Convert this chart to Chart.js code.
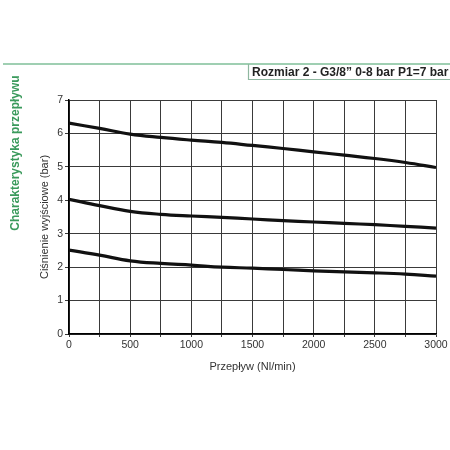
<!DOCTYPE html>
<html>
<head>
<meta charset="utf-8">
<script src="https://cdn.jsdelivr.net/npm/chart.js@4"></script>
<style>
  html, body { margin: 0; padding: 0; background: #fff; }
  #wrap { width: 450px; height: 450px; }
</style>
</head>
<body>
<div id="wrap"><canvas id="flowChart" width="450" height="450"></canvas></div>
<script>
// Dane
const flow = [0, 250, 500, 750, 1000, 1250, 1500, 1750, 2000, 2250, 2500, 2750, 3000];
const pressureHigh = [6.31, 6.15, 5.98, 5.88, 5.80, 5.73, 5.64, 5.55, 5.45, 5.35, 5.25, 5.13, 4.98];
const pressureMid = [4.03, 3.84, 3.67, 3.58, 3.53, 3.49, 3.44, 3.39, 3.35, 3.31, 3.27, 3.22, 3.17];
const pressureLow = [2.51, 2.36, 2.19, 2.11, 2.06, 2.00, 1.97, 1.93, 1.89, 1.86, 1.83, 1.79, 1.73];

const headerText = 'Rozmiar 2 - G3/8\u201D 0-8 bar P1=7 bar';
const sideTitle = 'Charakterystyka przepływu';
const xTitle = 'Przepływ (Nl/min)';
const yTitle = 'Ciśnienie wyjściowe (bar)';

const FONT = '"Liberation Sans", Arial, sans-serif';
const GREEN = '#3a9a5c';

function toPoints(values) {
    return flow.map((x, i) => ({ x: x, y: values[i] }));
}

function lineSet(values) {
    return {
        data: toPoints(values),
        borderColor: '#111',
        borderWidth: 3.2,
        pointRadius: 0,
        tension: 0.4,
        fill: false
    };
}

// Naglowek, zielona linia i pionowy tytul
const decorPlugin = {
    id: 'decor',
    afterDraw(chart) {
        const ctx = chart.ctx;
        ctx.save();
        ctx.strokeStyle = '#7fbf98';
        ctx.lineWidth = 1.5;
        ctx.beginPath();
        ctx.moveTo(3, 64);
        ctx.lineTo(450, 64);
        ctx.stroke();

        ctx.strokeStyle = '#8fb7a0';
        ctx.lineWidth = 1.2;
        ctx.beginPath();
        ctx.moveTo(248.5, 64);
        ctx.lineTo(248.5, 79.5);
        ctx.lineTo(450, 79.5);
        ctx.stroke();

        ctx.fillStyle = '#222';
        ctx.font = 'bold 12px ' + FONT;
        ctx.textAlign = 'left';
        ctx.textBaseline = 'alphabetic';
        ctx.fillText(headerText, 252, 76);

        ctx.translate(16, 153);
        ctx.rotate(-Math.PI / 2);
        ctx.fillStyle = GREEN;
        ctx.font = 'bold 12px ' + FONT;
        ctx.textAlign = 'center';
        ctx.textBaseline = 'middle';
        ctx.fillText(sideTitle, 0, 0);
        ctx.restore();
    }
};

new Chart(document.getElementById('flowChart'), {
    type: 'line',
    data: {
        datasets: [lineSet(pressureHigh), lineSet(pressureMid), lineSet(pressureLow)]
    },
    options: {
        responsive: false,
        animation: false,
        layout: {
            padding: { top: 100, right: 14, left: 34, bottom: 74.7 }
        },
        plugins: {
            legend: { display: false },
            tooltip: { enabled: false }
        },
        scales: {
            x: {
                type: 'linear',
                min: 0,
                max: 3000,
                afterFit(scale) { scale.height = 41.3; },
                ticks: {
                    stepSize: 250,
                    autoSkip: false,
                    maxRotation: 0,
                    padding: 2,
                    color: '#333',
                    font: { family: FONT, size: 10.5 },
                    callback: v => (v % 500 === 0 ? v : '')
                },
                grid: { color: '#3a3a3a', lineWidth: 1, tickLength: 3 },
                border: { color: '#000', width: 1.5 },
                title: {
                    display: true,
                    text: xTitle,
                    color: '#333',
                    font: { family: FONT, size: 11 },
                    padding: { top: 4, bottom: 2 }
                }
            },
            y: {
                min: 0,
                max: 7,
                afterFit(scale) { scale.width = 35; },
                ticks: {
                    stepSize: 1,
                    padding: 2,
                    color: '#333',
                    font: { family: FONT, size: 10.5 }
                },
                grid: { color: '#3a3a3a', lineWidth: 1, tickLength: 4 },
                border: { color: '#000', width: 1.5 },
                title: {
                    display: true,
                    text: yTitle,
                    color: '#333',
                    font: { family: FONT, size: 11 },
                    padding: { top: 4, bottom: 4 }
                }
            }
        }
    },
    plugins: [decorPlugin]
});
</script>
</body>
</html>
